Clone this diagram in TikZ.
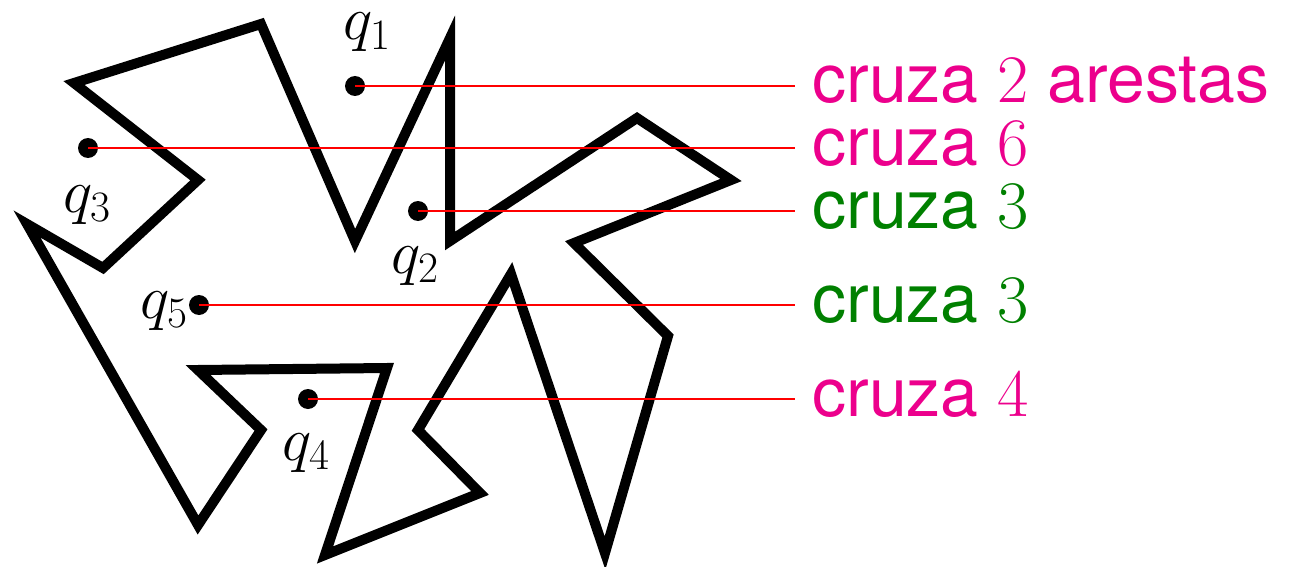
\RequirePackage{fix-cm}
\documentclass[tikz,border=0pt]{standalone}
\usepackage{fontspec}
\newfontfamily\crossfont{TeX Gyre Heros}
\usetikzlibrary{positioning}
\definecolor{crossmag}{RGB}{236,0,140}
\definecolor{crossgreen}{RGB}{0,128,0}

\begin{document}
\begin{tikzpicture}[
    x=0.5pt, y=-0.5pt,
    outline/.style={draw, line width=5pt, line join=miter},
    query/.style={circle, fill, inner sep=0pt, minimum size=10pt},
    qname/.style={anchor=base, inner sep=0pt, font=\fontsize{31}{37}\selectfont},
    count/.style={anchor=west, inner sep=0pt, text height=17pt, text depth=0pt, font=\fontsize{34}{41}\selectfont\crossfont},
    ray/.style={red, line width=1.2pt, shorten >=8.5pt}
  ]
    \useasboundingbox (0,0) rectangle (1290,567);

    \draw [outline] (74,83) -- (261,24) -- (355,241) -- (450,38) -- (450,241) -- (637,118)
      -- (731,180) -- (574,243) -- (668,336) -- (605,553) -- (511,274) -- (418,430)
      -- (480,493) -- (325,555) -- (387,368) -- (198,370) -- (261,430) -- (198,525)
      -- (27,224) -- (103,268) -- (198,180) -- cycle;

    \node (q1) [query] at (355,86) {};
    \node (q2) [query] at (418,211) {};
    \node (q3) [query] at (88,148) {};
    \node (q4) [query] at (308,399) {};
    \node (q5) [query] at (199,305) {};

    \node (n1) [qname] at (367,40) {$q_1$};
    \node (n2) [qname] at (415,273) {$q_2$};
    \node (n3) [qname] at (87,212) {$q_3$};
    \node (n4) [qname] at (306,460) {$q_4$};
    \node (n5) [qname] at (164,318) {$q_5$};

    \node (c1) [count, text=crossmag] at (812,86) {cruza $2$ arestas};
    \node (c6) [count, text=crossmag] at (812,148) {cruza $6$};
    \node (c2) [count, text=crossgreen] at (812,211) {cruza $3$};
    \node (c5) [count, text=crossgreen] at (812,305) {cruza $3$};
    \node (c4) [count, text=crossmag] at (812,399) {cruza $4$};

    \draw [ray] (q1.center) -- (c1.west);
    \draw [ray] (q3.center) -- (c6.west);
    \draw [ray] (q2.center) -- (c2.west);
    \draw [ray] (q5.center) -- (c5.west);
    \draw [ray] (q4.center) -- (c4.west);
  \end{tikzpicture}
\end{document}
